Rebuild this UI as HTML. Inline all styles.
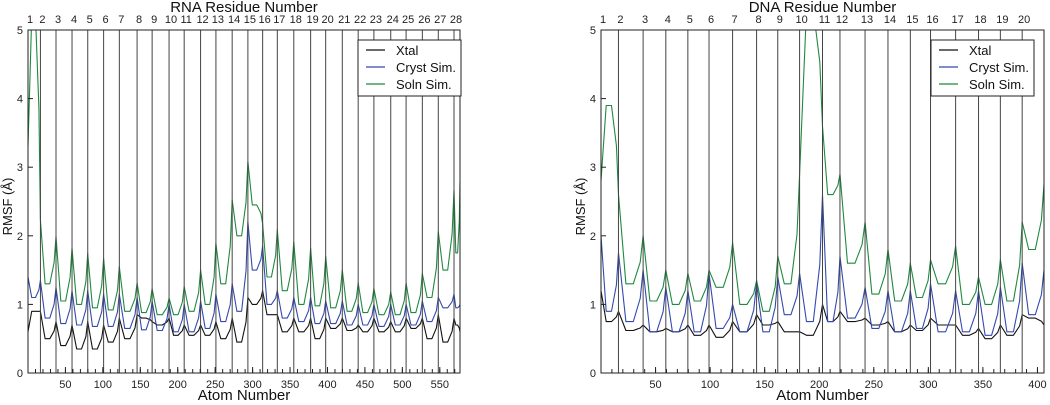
<!DOCTYPE html>
<html><head><meta charset="utf-8"><style>
html,body{margin:0;padding:0;background:#fff;}
svg{display:block;font-family:"Liberation Sans",sans-serif;}
</style></head><body>
<svg id="chart" width="1050" height="405"></svg>
<script>
// ---- RNA panel data ----
const rnaResidueLabels = [1,2,3,4,5,6,7,8,9,10,11,12,13,14,15,16,17,18,19,20,21,22,23,24,25,26,27,28];
const rnaBoundaries = [0,16.6,37.4,58.8,79.8,101,122,145.7,165.8,188.4,208.6,230.5,251,272.7,293.7,313.4,333,355,377.5,397.6,419.8,441,462,484.5,505,526.7,548,569];
const rnaXtalPeak = [0.6,0.9,0.75,0.7,0.75,0.7,0.8,0.85,0.75,0.8,0.7,0.7,0.75,0.8,1.1,1.2,0.85,0.8,0.8,0.8,0.8,0.7,0.8,0.75,0.8,0.8,0.85,0.8];
const rnaXtalMid = [0.9,0.5,0.4,0.35,0.35,0.45,0.5,0.8,0.7,0.55,0.55,0.55,0.5,0.45,1.0,0.85,0.6,0.6,0.5,0.65,0.62,0.6,0.6,0.6,0.65,0.5,0.45,0.7];
const rnaCrystPeak = [1.4,1.35,1.25,1.2,1.2,1.15,1.15,1.1,1.05,1.0,1.0,1.05,1.15,1.3,2.2,1.85,1.2,1.1,1.1,1.05,1.05,1.0,1.0,1.0,1.0,1.05,1.1,1.15];
const rnaCrystMid = [1.1,0.8,0.72,0.7,0.68,0.68,0.65,0.63,0.62,0.6,0.6,0.65,0.75,0.9,1.5,1.0,0.8,0.75,0.72,0.72,0.7,0.7,0.68,0.7,0.7,0.75,0.95,0.95];
const rnaSolnPeak = [3.3,2.23,1.99,1.82,1.74,1.67,1.55,1.31,1.23,1.09,1.26,1.5,1.89,2.52,3.08,2.18,2.09,1.91,1.82,1.7,1.5,1.31,1.23,1.18,1.31,1.45,2.06,2.67];
const rnaSolnMid = [5.2,1.3,1.05,1.0,0.95,0.92,0.9,0.88,0.85,0.85,0.9,1.0,1.3,2.0,2.45,1.4,1.2,1.0,0.98,0.95,0.9,0.88,0.85,0.85,0.88,1.1,1.5,1.75];
const rnaEnd = {atom:577, xtal:0.6, cryst:1.0, soln:2.8};
const rnaXTicks = [50,100,150,200,250,300,350,400,450,500,550];
// ---- DNA panel data ----
const dnaResidueLabels = [1,2,3,4,5,6,7,8,9,10,11,12,13,14,15,16,17,18,19,20];
const dnaBoundaries = [0,16,38.6,59.4,79.6,99,120.6,142.6,162,182,203,219,242,263,283.5,302,325,346,366,386];
const dnaXtalPeak = [1.2,0.9,0.7,0.65,0.7,0.7,0.75,0.85,0.75,0.6,1.0,0.9,0.8,0.75,0.7,0.8,0.7,0.65,0.7,0.85];
const dnaXtalMid = [0.75,0.62,0.6,0.6,0.55,0.52,0.6,0.7,0.6,0.55,0.75,0.75,0.7,0.6,0.62,0.7,0.55,0.5,0.55,0.8];
const dnaCrystPeak = [2.0,1.75,1.5,1.25,1.2,1.45,1.0,1.3,1.4,1.45,2.6,1.7,1.25,1.2,1.2,1.3,1.2,1.2,1.25,1.6];
const dnaCrystMid = [0.9,0.75,0.6,0.6,0.6,0.65,0.6,0.6,0.85,0.75,0.75,0.8,0.65,0.6,0.65,0.6,0.6,0.55,0.6,0.85];
const dnaSolnPeak = [2.8,2.6,2.0,1.5,1.45,1.5,1.9,1.35,1.7,2.9,3.6,2.9,2.2,1.8,1.6,1.65,1.85,1.4,1.65,2.2];
const dnaSolnMid = [3.9,1.3,1.05,1.0,1.05,1.25,1.0,0.9,1.3,5.3,2.6,1.6,1.15,1.05,1.1,1.3,1.0,1.0,1.05,1.8];
const dnaEnd = {atom:406, xtal:0.7, cryst:1.5, soln:2.75};
const dnaXTicks = [50,100,150,200,250,300,350,400];
const yTicks = [0,1,2,3,4,5];

const NS = "http://www.w3.org/2000/svg";
const svg = document.getElementById('chart');
function mk(tag, attrs, parent, text){
  const e = document.createElementNS(NS, tag);
  for (const k in attrs) e.setAttribute(k, attrs[k]);
  if (text !== undefined) e.textContent = text;
  (parent || svg).appendChild(e);
  return e;
}

function panel(cfg){
  const g = mk('g', {});
  
  
  const {x0, x1, y0, y1, dmax} = cfg;
  const sx = a => x0 + (a / dmax) * (x1 - x0);
  const sy = v => y0 - (v / 5) * (y0 - y1);
  const cid = cfg.name + '-clip';
  const cp = mk('clipPath', {id: cid}, g);
  mk('rect', {x: x0, y: y1, width: x1 - x0, height: y0 - y1}, cp);

  const series = [
    {name:'xtal-line', peak: cfg.xp, mid: cfg.xm, end: cfg.end.xtal, color:'#111'},
    {name:'soln-sim-line', peak: cfg.sp, mid: cfg.sm, end: cfg.end.soln, color:'#1f8a3f'},
    {name:'cryst-sim-line', peak: cfg.cp, mid: cfg.cm, end: cfg.end.cryst, color:'#3349b0'}
  ];
  series.forEach(s => {
    let pts = [];
    const B = cfg.bounds;
    for (let i = 0; i < B.length; i++) {
      const a = B[i], b = (i + 1 < B.length) ? B[i + 1] : cfg.end.atom;
      const L = b - a;
      const nextPeak = (i + 1 < B.length) ? s.peak[i + 1] : s.end;
      pts.push([sx(a), sy(s.peak[i])]);
      pts.push([sx(a + L * 0.3), sy(s.mid[i])]);
      pts.push([sx(a + L * 0.6), sy(s.mid[i])]);
      pts.push([sx(a + L * 0.88), sy(s.mid[i] + 0.45 * (nextPeak - s.mid[i]))]);
    }
    pts.push([sx(cfg.end.atom), sy(s.end)]);
    const p = mk('polyline', {points: pts.map(p => p[0].toFixed(1) + ',' + p[1].toFixed(1)).join(' '),
      fill: 'none', stroke: s.color, 'stroke-width': 1.1, 'stroke-linejoin': 'round', 'clip-path': 'url(#' + cid + ')'}, g);
    
    
  });

  cfg.bounds.forEach((a, i) => {
    const x = sx(a);
    if (i > 0) {
      const l = mk('line', {x1: x, x2: x, y1: y1, y2: y0, stroke: '#444', 'stroke-width': 1}, g);
      
      
    }
    const t = mk('text', {x: x + 2, y: 23, 'font-size': 11, 'text-anchor': 'middle', fill: '#222'}, g, cfg.labels[i]);
    
    
  });

  const fr = mk('rect', {x: x0, y: y1, width: x1 - x0, height: y0 - y1, fill: 'none', stroke: '#222', 'stroke-width': 1}, g);
  
  

  yTicks.forEach(v => {
    const y = sy(v);
    mk('line', {x1: x0, x2: x0 + 5, y1: y, y2: y, stroke: '#222'}, g);
    const t = mk('text', {x: x0 - 5, y: y + 4, 'font-size': 11, 'text-anchor': 'end', fill: '#222'}, g, v);
    
    
  });
  for (let a = 10; a < dmax; a += 10) {
    mk('line', {x1: sx(a), x2: sx(a), y1: y0, y2: y0 - 4, stroke: '#222'}, g);
  }
  cfg.xt.forEach(a => {
    mk('line', {x1: sx(a), x2: sx(a), y1: y0, y2: y0 - 6, stroke: '#222'}, g);
    const t = mk('text', {x: sx(a), y: y0 + 15, 'font-size': 11, 'text-anchor': 'middle', fill: '#222'}, g, a);
    
    
  });

  const tt = mk('text', {x: (x0 + x1) / 2, y: 12, 'font-size': 15, 'text-anchor': 'middle', fill: '#111'}, g, cfg.title);
  
  
  const xl = mk('text', {x: (x0 + x1) / 2, y: 400, 'font-size': 15, 'text-anchor': 'middle', fill: '#111'}, g, 'Atom Number');
  
  
  const yl = mk('text', {x: 0, y: 0, 'font-size': 13, 'text-anchor': 'middle', fill: '#111',
    transform: 'translate(' + (x0 - 16) + ',' + ((y0 + y1) / 2 + 5) + ') rotate(-90)'}, g, 'RMSF (Å)');
  
  

  const lx = cfg.legX, ly = 40;
  const lg = mk('g', {}, g);
  
  
  mk('rect', {x: lx, y: ly, width: 103, height: 56, fill: '#fff', stroke: '#222'}, lg);
  [['Xtal', '#111'], ['Cryst Sim.', '#3349b0'], ['Soln Sim.', '#1f8a3f']].forEach((e, i) => {
    const yy = ly + 10 + i * 17;
    const en = mk('g', {}, lg);
    
    
    mk('line', {x1: lx + 8, x2: lx + 27, y1: yy, y2: yy, stroke: e[1], 'stroke-width': 1.2}, en);
    mk('text', {x: lx + 38, y: yy + 5, 'font-size': 13, fill: '#111'}, en, e[0]);
  });
}

panel({name: 'rna-panel', x0: 28, x1: 460, y0: 373, y1: 30, dmax: 577, bounds: rnaBoundaries, labels: rnaResidueLabels,
  xp: rnaXtalPeak, xm: rnaXtalMid, cp: rnaCrystPeak, cm: rnaCrystMid, sp: rnaSolnPeak, sm: rnaSolnMid,
  end: rnaEnd, xt: rnaXTicks, title: 'RNA Residue Number', legX: 358});
panel({name: 'dna-panel', x0: 601, x1: 1044, y0: 373, y1: 30, dmax: 406, bounds: dnaBoundaries, labels: dnaResidueLabels,
  xp: dnaXtalPeak, xm: dnaXtalMid, cp: dnaCrystPeak, cm: dnaCrystMid, sp: dnaSolnPeak, sm: dnaSolnMid,
  end: dnaEnd, xt: dnaXTicks, title: 'DNA Residue Number', legX: 931});
</script>
</body></html>
